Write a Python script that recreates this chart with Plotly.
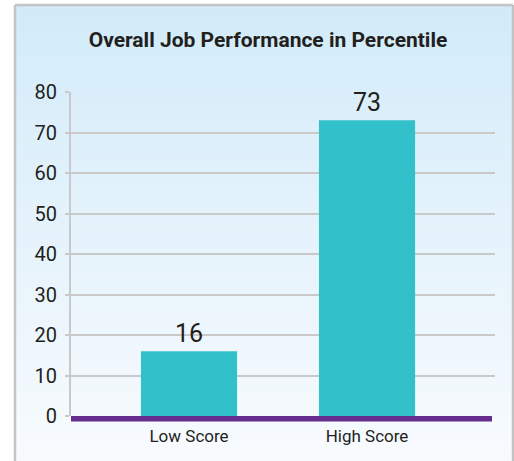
import plotly.graph_objects as go

categories = ["Low Score", "High Score"]
values = [16, 73]
y_ticks = [0, 10, 20, 30, 40, 50, 60, 70, 80]

W, H = 514, 461
L, R, T, B = 71, 19, 92, 45
PW, PH = W - L - R, H - T - B

def px(x):
    return (x - L) / PW

def py(y):
    return (H - B - y) / PH

FONT = "Roboto, Lato, sans-serif"
TXT = "#231f20"
GRID = "#c9c9c9"

shapes = []
# gradient background panel
top = (0xd2, 0xeb, 0xf9)
bot = (0xf8, 0xfb, 0xfe)
n = 60
y_top, y_bot = 5, 461
for i in range(n):
    t = i / (n - 1)
    c = tuple(round(top[k] + (bot[k] - top[k]) * t) for k in range(3))
    ya = y_top + (y_bot - y_top) * i / n
    yb = y_top + (y_bot - y_top) * (i + 1) / n + 0.5
    shapes.append(dict(type="rect", xref="paper", yref="paper", layer="below",
                       x0=px(15), x1=px(513), y0=py(ya), y1=py(yb),
                       fillcolor="rgb(%d,%d,%d)" % c, line=dict(width=0)))
# panel borders
for (x0, y0, x1, y1) in [(15, 5, 15, 461), (513, 5, 513, 461), (15, 5, 513, 5)]:
    shapes.append(dict(type="line", xref="paper", yref="paper", layer="below",
                       x0=px(x0), x1=px(x1), y0=py(y0), y1=py(y1),
                       line=dict(color="#c4c4c4", width=2.5)))
# purple baseline
shapes.append(dict(type="rect", xref="paper", yref="paper", layer="above",
                   x0=px(71), x1=px(492), y0=py(421.5), y1=py(416),
                   fillcolor="#662d8f", line=dict(width=0)))

fig = go.Figure(go.Bar(
    x=categories, y=values, width=0.54,
    marker=dict(color="#32c0cb", line=dict(width=0)),
    text=[str(v) for v in values], textposition="outside",
    textfont=dict(family=FONT, size=25, color=TXT),
    cliponaxis=False,
))

fig.update_layout(
    width=W, height=H,
    margin=dict(l=L, r=R, t=T, b=B, pad=0),
    paper_bgcolor="white", plot_bgcolor="rgba(0,0,0,0)",
    shapes=shapes,
    showlegend=False,
    title=dict(text="<b>Overall Job Performance in Percentile</b>",
               x=(268) / W, xanchor="center", y=1 - 40 / H, yanchor="middle",
               font=dict(family=FONT, size=21, color=TXT)),
    font=dict(family=FONT, color=TXT),
)
fig.update_xaxes(range=[-0.663, 1.719], showgrid=False, showline=False,
                 ticks="", tickfont=dict(size=17, color=TXT, family=FONT),
                 ticklabelstandoff=8, zeroline=False)
fig.update_yaxes(range=[0, 80], tickvals=y_ticks, showgrid=True, gridcolor=GRID,
                 gridwidth=2, showline=True, linecolor=GRID, linewidth=2,
                 ticks="outside", ticklen=4, tickcolor=GRID, tickwidth=2,
                 tickfont=dict(size=20, color=TXT, family=FONT),
                 ticklabelstandoff=4, zeroline=False)

fig.write_html("out.html", config={"displayModeBar": False},
               post_script="document.body.style.margin='0';")
